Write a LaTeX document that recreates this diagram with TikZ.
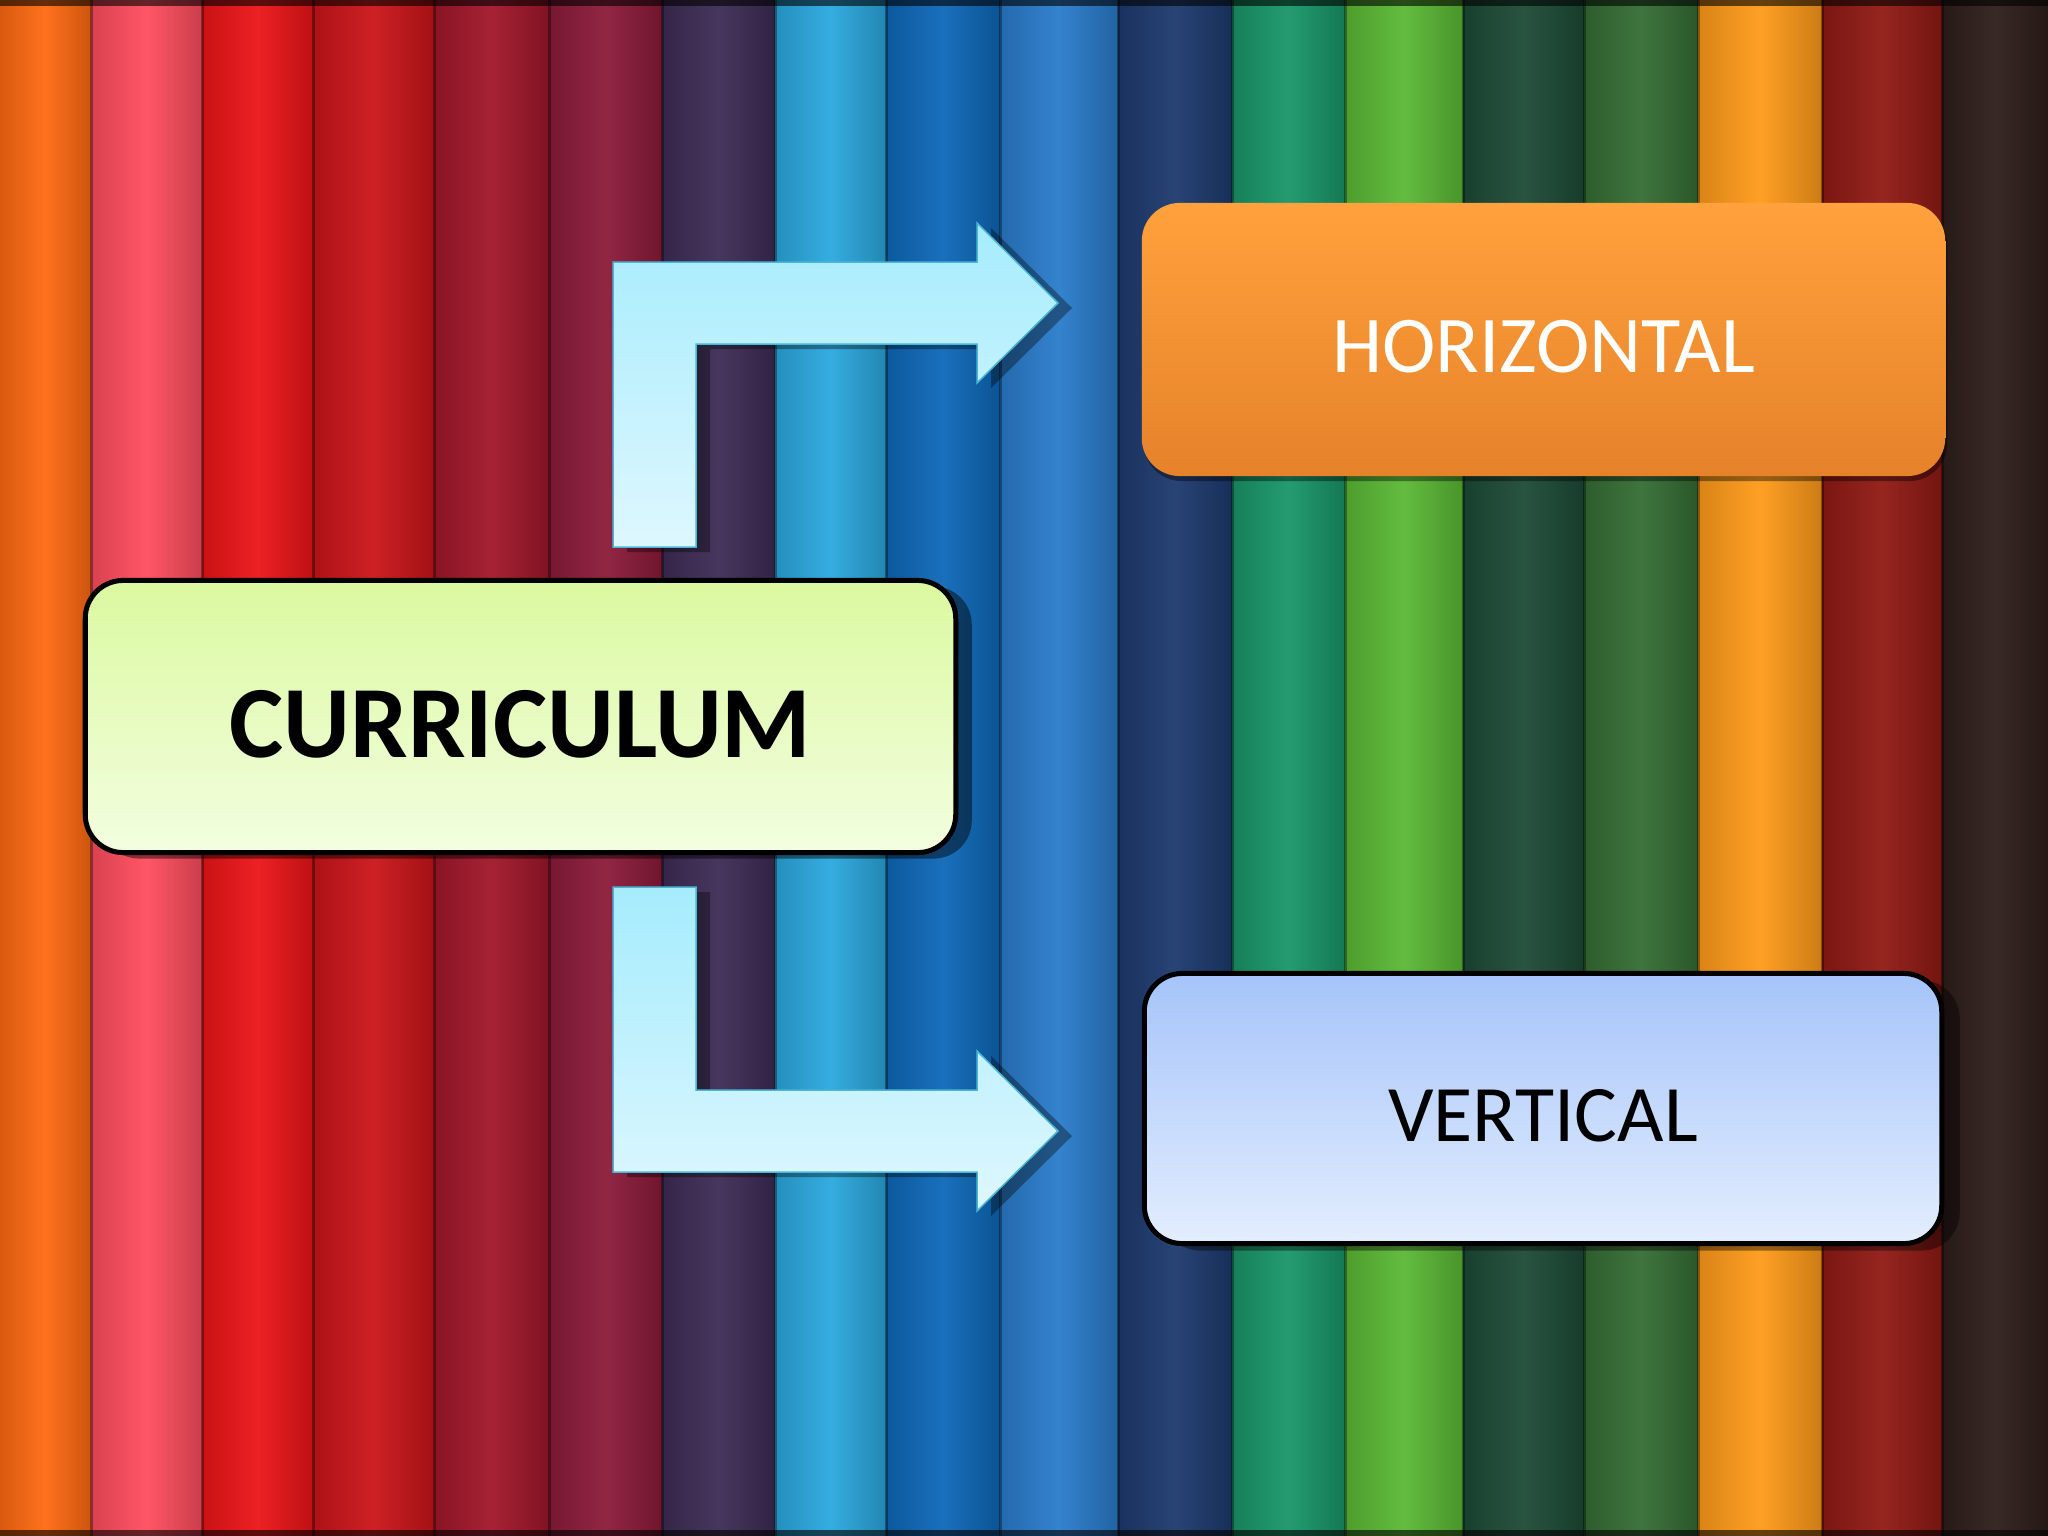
\documentclass[tikz,border=0pt]{standalone}
\usepackage{fontspec}
\setmainfont{Carlito}
\usetikzlibrary{shadows}
\definecolor{sA}{HTML}{FF6A12}
\definecolor{sB}{HTML}{FF4D5E}
\definecolor{sC}{HTML}{EC1518}
\definecolor{sD}{HTML}{CB1519}
\definecolor{sE}{HTML}{A1172A}
\definecolor{sF}{HTML}{8C1B3A}
\definecolor{sG}{HTML}{3D2C55}
\definecolor{sH}{HTML}{2BA8DE}
\definecolor{sI}{HTML}{0E68B8}
\definecolor{sJ}{HTML}{2A7CCB}
\definecolor{sK}{HTML}{1D3A6E}
\definecolor{sL}{HTML}{19966A}
\definecolor{sM}{HTML}{5BB935}
\definecolor{sN}{HTML}{1D4B36}
\definecolor{sO}{HTML}{356D34}
\definecolor{sP}{HTML}{FF9B1A}
\definecolor{sQ}{HTML}{901A14}
\definecolor{sR}{HTML}{2E1E1A}
\definecolor{arrTop}{HTML}{A6ECFD}
\definecolor{arrBot}{HTML}{DEF7FE}
\definecolor{arrEdge}{HTML}{4AB6D6}
\definecolor{curTop}{HTML}{DBF9A0}
\definecolor{curBot}{HTML}{F3FEE0}
\definecolor{horTop}{HTML}{FFA13C}
\definecolor{horBot}{HTML}{E6822A}
\definecolor{verTop}{HTML}{A6C4FA}
\definecolor{verBot}{HTML}{E3EEFE}
\tikzset{
  boxbase/.style={rectangle, rounded corners=0.38cm, inner sep=0pt, align=center},
  blackedge/.style={draw=black, line width=0.05cm},
  bentarrow/.style={top color=arrTop, bottom color=arrBot, draw=arrEdge, line width=0.015cm},
  arrowshadow/.style={fill=black, opacity=0.35},
}
\begin{document}
\begin{tikzpicture}[x=0.01cm,y=-0.01cm]
\useasboundingbox (0,0) rectangle (2048,1536);
% background stripes
\foreach \a/\b/\c in {0/91/sA,91/202/sB,202/313/sC,313/434/sD,434/549/sE,549/662/sF,662/775/sG,775/886/sH,886/1000/sI,1000/1118/sJ,1118/1232/sK,1232/1345/sL,1345/1463/sM,1463/1584/sN,1584/1698/sO,1698/1822/sP,1822/1942/sQ,1942/2048/sR}{
  \shade[left color=\c!85!black, right color=\c!80!black, middle color=\c!95!white] (\a,0) rectangle (\b,1536);
}
\foreach \x in {91,202,313,434,549,662,775,886,1000,1118,1232,1345,1463,1584,1698,1822,1942}{
  \draw[black, opacity=0.35, line width=0.03cm] (\x,0) -- (\x,1536);
}
\fill[black, opacity=0.6] (0,0) rectangle (2048,6);
\fill[black, opacity=0.6] (0,1530) rectangle (2048,1536);

% bent arrows: shadows then bodies
\fill[arrowshadow, xshift=0.14cm, yshift=-0.05cm] (613,547) -- (613,262) -- (977,262) -- (977,223) -- (1058,303) -- (977,383) -- (977,344) -- (696,344) -- (696,547) -- cycle;
\shade[bentarrow] (613,547) -- (613,262) -- (977,262) -- (977,223) -- (1058,303) -- (977,383) -- (977,344) -- (696,344) -- (696,547) -- cycle;
\fill[arrowshadow, xshift=0.14cm, yshift=-0.05cm] (613,887) -- (696,887) -- (696,1090) -- (977,1090) -- (977,1051) -- (1058,1131) -- (977,1211) -- (977,1172) -- (613,1172) -- cycle;
\shade[bentarrow] (613,887) -- (696,887) -- (696,1090) -- (977,1090) -- (977,1051) -- (1058,1131) -- (977,1211) -- (977,1172) -- (613,1172) -- cycle;

% boxes
\node[boxbase, blackedge, top color=curTop, bottom color=curBot,
      minimum width=8.7cm, minimum height=2.72cm, text height=0.82cm, text depth=0cm,
      drop shadow={shadow xshift=0.16cm, shadow yshift=-0.06cm, opacity=0.45, fill=black},
      font=\bfseries\fontsize{29.1pt}{32pt}\selectfont] (curr) at (520.5,716.5) {CURRICULUM};
\node[boxbase, top color=horTop, bottom color=horBot,
      minimum width=8.03cm, minimum height=2.73cm, text height=0.66cm, text depth=0cm,
      drop shadow={shadow xshift=0.02cm, shadow yshift=-0.05cm, opacity=0.4, fill=black},
      text=white, font=\fontsize{22.9pt}{25pt}\selectfont] (hor) at (1543.5,339.5) {HORIZONTAL};
\node[boxbase, blackedge, top color=verTop, bottom color=verBot,
      minimum width=7.97cm, minimum height=2.70cm, text height=0.66cm, text depth=0cm,
      drop shadow={shadow xshift=0.18cm, shadow yshift=-0.07cm, opacity=0.4, fill=black},
      font=\fontsize{22.8pt}{25pt}\selectfont] (vert) at (1543,1108.5) {VERTICAL};
\end{tikzpicture}
\end{document}
